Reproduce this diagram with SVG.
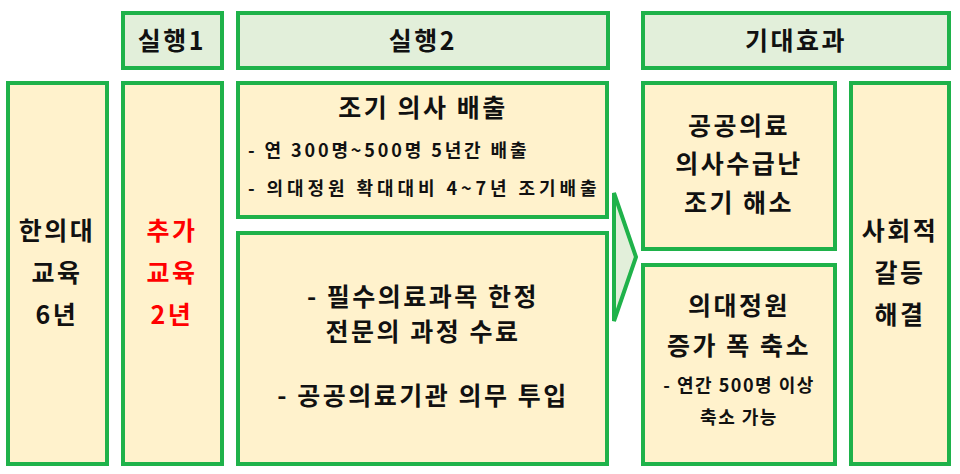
<svg xmlns="http://www.w3.org/2000/svg" width="960" height="474" viewBox="0 0 960 474">
<style>
.h{fill:#e2efda;stroke:#1fb24a;stroke-width:4}
.b{fill:#fff2cc;stroke:#1fb24a;stroke-width:4}
text{font-family:"Noto Sans CJK KR","Noto Sans",sans-serif;font-weight:bold;fill:#111;text-anchor:middle}
.l{font-size:25px;letter-spacing:2.5px}
.s{font-size:18px;letter-spacing:1.5px}
</style>
<rect width="960" height="474" fill="#fff"/>
<g id="h1"><rect class="h" x="123" y="13" width="99" height="55"/><text class="l" x="172" y="50">실행1</text></g>
<g id="h2"><rect class="h" x="238" y="13" width="370" height="55"/><text class="l" x="423" y="50">실행2</text></g>
<g id="h3"><rect class="h" x="643" y="13" width="306" height="55"/><text class="l" x="796" y="50">기대효과</text></g>
<g id="n1"><rect class="b" x="8" y="83" width="99" height="381"/><text class="l" x="57" y="240">한의대</text><text class="l" x="57" y="282">교육</text><text class="l" x="57" y="324">6년</text></g>
<g id="n2"><rect class="b" x="123" y="83" width="99" height="381"/><text class="l" x="172" y="240" style="fill:#ff0000">추가</text><text class="l" x="172" y="282" style="fill:#ff0000">교육</text><text class="l" x="172" y="324" style="fill:#ff0000">2년</text></g>
<g id="n3"><rect class="b" x="238" y="83" width="369" height="134"/><text class="l" x="423" y="117">조기 의사 배출</text><text class="s" x="248" y="157" style="text-anchor:start" textLength="280">- 연 300명~500명 5년간 배출</text><text class="s" x="248" y="195" style="text-anchor:start" textLength="350">- 의대정원 확대대비 4~7년 조기배출</text></g>
<g id="n4"><rect class="b" x="238" y="233" width="369" height="231"/><text class="l" x="423" y="306">- 필수의료과목 한정</text><text class="l" x="423" y="341">전문의 과정 수료</text><text class="l" x="423" y="405">- 공공의료기관 의무 투입</text></g>
<g id="n5"><rect class="b" x="643" y="83" width="192" height="166"/><text class="l" x="739" y="135">공공의료</text><text class="l" x="739" y="173">의사수급난</text><text class="l" x="739" y="212">조기 해소</text></g>
<g id="n6"><rect class="b" x="643" y="265" width="192" height="199"/><text class="l" x="739" y="315">의대정원</text><text class="l" x="739" y="355">증가 폭 축소</text><text class="s" x="739" y="392">- 연간 500명 이상</text><text class="s" x="739" y="424">축소 가능</text></g>
<g id="n7"><rect class="b" x="851" y="83" width="98" height="381"/><text class="l" x="900" y="240">사회적</text><text class="l" x="900" y="282">갈등</text><text class="l" x="900" y="324">해결</text></g>
<g id="connectors"><polygon points="614,193 636,257 614,321" fill="#e2efda" stroke="#1fb24a" stroke-width="4"/></g>
</svg>
